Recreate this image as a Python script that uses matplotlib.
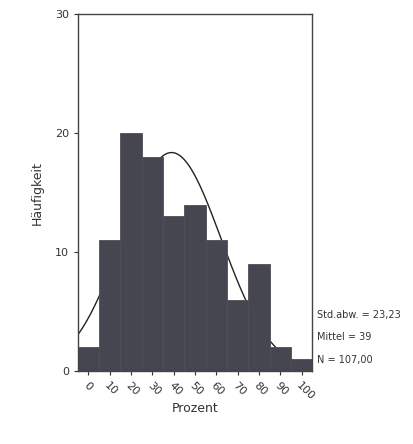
import numpy as np
import matplotlib
matplotlib.use("Agg")
import matplotlib.pyplot as plt

bin_centers = [0, 10, 20, 30, 40, 50, 60, 70, 80, 90, 100]
counts = [2, 11, 20, 18, 13, 14, 11, 6, 9, 2, 1]
tick_labels = ["0", "10", "20", "30", "40", "50", "60", "70", "80", "90", "100"]
mean_val = 39.0
std_val = 23.23
n_val = 107
bin_width = 10
stats_text = ["Std.abw. = 23,23", "Mittel = 39", "N = 107,00"]

fig = plt.figure(figsize=(4.14, 4.44), dpi=100)
ax = fig.add_axes([0.188, 0.164, 0.566, 0.804])

ax.bar(bin_centers, counts, width=bin_width, color="#45464f",
       edgecolor="#4d4e57", linewidth=0.6, zorder=2)

xs = np.linspace(-5, 105, 400)
ys = n_val * bin_width / (std_val * np.sqrt(2 * np.pi)) * np.exp(-0.5 * ((xs - mean_val) / std_val) ** 2)
ax.plot(xs, ys, color="#222222", linewidth=1.0, zorder=1)

ax.set_xlim(-5, 105)
ax.set_ylim(0, 30)
ax.set_yticks([0, 10, 20, 30])
ax.set_xticks(bin_centers)
ax.set_xticklabels(tick_labels, rotation=-45, ha="left", va="top",
                   rotation_mode="anchor", fontsize=8, color="#333333")
ax.tick_params(axis="y", labelsize=8, length=3, width=0.8, colors="#333333")
ax.tick_params(axis="x", length=3, width=0.8, colors="#333333")
for s in ax.spines.values():
    s.set_color("#444444")
    s.set_linewidth(1.0)
    s.set_zorder(4)

ax.set_ylabel("Häufigkeit", fontsize=9, color="#333333", labelpad=8)
ax.set_xlabel("Prozent", fontsize=9, color="#333333", labelpad=0)

for i, t in enumerate(stats_text):
    fig.text(0.765, 0.29 - i * 0.05, t, fontsize=7, color="#333333",
             ha="left", va="center")

fig.savefig("out.png", dpi=100)
